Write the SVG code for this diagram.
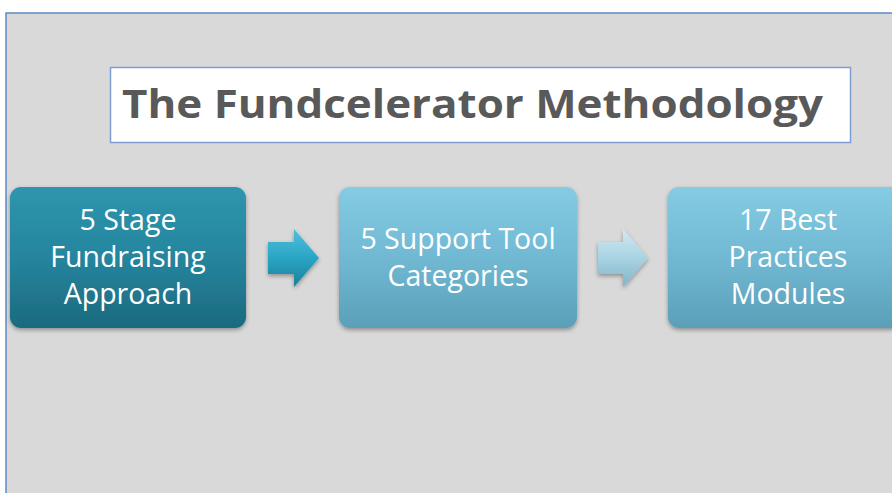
<svg xmlns="http://www.w3.org/2000/svg" width="892" height="493" viewBox="0 0 892 493">
  <defs>
    <linearGradient id="gDark" x1="0" y1="0" x2="0" y2="1">
      <stop offset="0" stop-color="#2f95ae"/>
      <stop offset="0.5" stop-color="#25859e"/>
      <stop offset="1" stop-color="#1c6a7e"/>
    </linearGradient>
    <linearGradient id="gLight" x1="0" y1="0" x2="0" y2="1">
      <stop offset="0" stop-color="#84cbe3"/>
      <stop offset="0.5" stop-color="#71b9d3"/>
      <stop offset="1" stop-color="#5b9fb8"/>
    </linearGradient>
    <linearGradient id="gArrow1" x1="0" y1="0" x2="0" y2="1">
      <stop offset="0" stop-color="#4fc0dc"/>
      <stop offset="0.5" stop-color="#2aa5c4"/>
      <stop offset="1" stop-color="#1b7f98"/>
    </linearGradient>
    <linearGradient id="gArrow2" x1="0" y1="0" x2="0" y2="1">
      <stop offset="0" stop-color="#d2e9f1"/>
      <stop offset="0.5" stop-color="#a9d3e2"/>
      <stop offset="1" stop-color="#7fb4c7"/>
    </linearGradient>
    <filter id="shadow" x="-10%" y="-10%" width="120%" height="130%">
      <feDropShadow dx="0" dy="2" stdDeviation="2" flood-color="#000" flood-opacity="0.35"/>
    </filter>
  </defs>
  <style>
    .label { font-family: "Open Sans", "Liberation Sans", sans-serif; font-size: 28.5px; fill: #ffffff; text-anchor: middle; }
    .title { font-family: "Open Sans", "Liberation Sans", sans-serif; font-weight: bold; font-size: 40px; fill: #595959; }
    .box { stroke: none; filter: url(#shadow); }
  </style>

  <!-- page background and slide panel -->
  <rect x="0" y="0" width="892" height="493" fill="#ffffff"/>
  <rect x="6" y="13" width="890" height="485" fill="#d9d9d9" stroke="#5b8ac6" stroke-width="1.5"/>

  <!-- title -->
  <g id="title">
    <rect x="110.5" y="67.5" width="740" height="75" fill="#ffffff" stroke="#7b9fd0" stroke-width="1.5"/>
    <text class="title" x="122" y="118" textLength="701" lengthAdjust="spacingAndGlyphs">The Fundcelerator Methodology</text>
  </g>

  <!-- process steps -->
  <g id="step1">
    <rect class="box" x="10" y="187" width="236" height="141" rx="11" fill="url(#gDark)"/>
    <text class="label" x="128" y="230">5 Stage</text>
    <text class="label" x="128" y="267">Fundraising</text>
    <text class="label" x="128" y="304">Approach</text>
  </g>

  <g id="step2">
    <rect class="box" x="339" y="187" width="238" height="141" rx="11" fill="url(#gLight)"/>
    <text class="label" x="458" y="249">5 Support Tool</text>
    <text class="label" x="458" y="286">Categories</text>
  </g>

  <g id="step3">
    <rect class="box" x="668" y="187" width="240" height="141" rx="11" fill="url(#gLight)"/>
    <text class="label" x="788" y="230">17 Best</text>
    <text class="label" x="788" y="267">Practices</text>
    <text class="label" x="788" y="304">Modules</text>
  </g>

  <!-- connectors -->
  <g id="connectors">
    <path d="M268,242 H294 V229 L319,258 L294,287 V274 H268 Z" fill="url(#gArrow1)" filter="url(#shadow)"/>
    <path d="M598,242 H623 V229 L648,258 L623,287 V274 H598 Z" fill="url(#gArrow2)" filter="url(#shadow)"/>
  </g>
</svg>
